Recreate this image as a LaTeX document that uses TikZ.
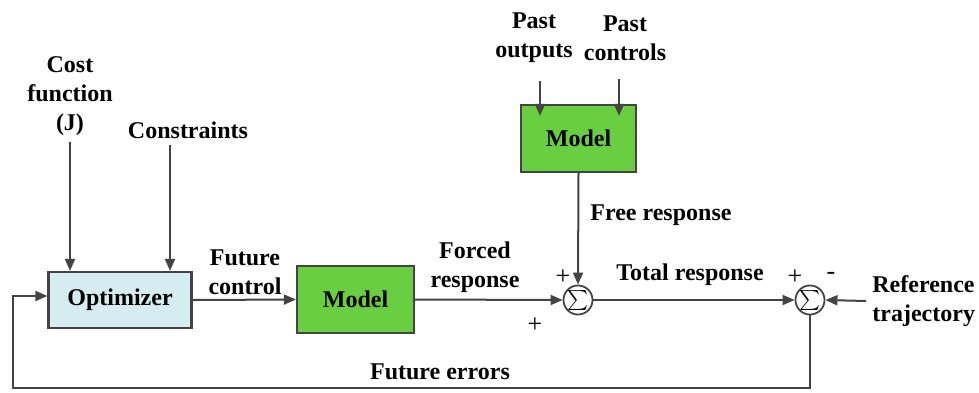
\documentclass[tikz,border=0pt]{standalone}
\usepackage{fontspec}
\setmainfont{Liberation Serif}
\usetikzlibrary{arrows.meta,positioning}
\definecolor{linegray}{HTML}{444444}
\definecolor{optblue}{HTML}{D5ECF1}
\definecolor{modelgreen}{HTML}{69CF40}
\tikzset{
  block/.style={draw=linegray, line width=1.1pt, inner sep=0pt},
  sumnode/.style={circle, draw=linegray, line width=0.9pt, minimum size=14pt, inner sep=0pt},
  lbl/.style={font=\fontsize{12}{14.5}\selectfont\bfseries, align=center, inner sep=3pt},
  sgn/.style={font=\fontsize{13}{14}\selectfont, inner sep=0pt},
  arr/.style={draw=linegray, line width=1pt, -{Triangle[length=6pt,width=5pt]}},
  wire/.style={draw=linegray, line width=1pt}
}

\begin{document}
\begin{tikzpicture}[x=0.5pt, y=-0.5pt]

  \useasboundingbox (0,0) rectangle (979,392);

  % Blocks
  \node[block, fill=optblue, minimum width=71.5pt, minimum height=28pt, lbl] (opt) at (120,300) {Optimizer};
  \node[block, fill=modelgreen, minimum width=58.5pt, minimum height=33.5pt, lbl] (model) at (355.5,299.5) {Model};
  \node[block, fill=modelgreen, minimum width=57.5pt, minimum height=33.5pt, lbl] (freemodel) at (578.5,138.5) {Model};

  % Summing junctions
  \node[sumnode] (sumA) at (578,300) {\fontsize{13}{13}\selectfont$\sum$};
  \node[sumnode] (sumB) at (810,300) {\fontsize{13}{13}\selectfont$\sum$};

  % Inputs
  \node[lbl] (cost) at (70,96) {Cost\\function\\(J)};
  \node[lbl] (cons) at (188,130) {Constraints};
  \node[lbl] (pout) at (534,38) {Past\\outputs};
  \node[lbl] (pctl) at (625,38) {Past\\controls};
  \node[lbl, align=left, anchor=west] (ref) at (866,301) {Reference\\trajectory};

  % Signal labels
  \node[lbl] at (245,272) {Future\\control};
  \node[lbl] at (475,267) {Forced\\response};
  \node[lbl, anchor=west] at (584,215) {Free response};
  \node[lbl] at (690,275) {Total response};
  \node[lbl] at (440,372) {Future errors};

  % Signs
  \node[sgn] at (563,277) {+};
  \node[sgn] at (535,325) {+};
  \node[sgn] at (795,277) {+};
  \node[sgn] at (831,276) {-};

  % Connections
  \draw[arr] (cost.south) -- (cost.south |- opt.north);
  \draw[arr] ([xshift=-9pt]cons.south) -- ([xshift=-9pt]cons.south |- opt.north);
  \draw[arr] ([xshift=3pt,yshift=-6pt]pout.south) -- ([xshift=3pt,yshift=-6pt]pout.south |- freemodel.north);
  \draw[arr] ([xshift=-3pt,yshift=-6pt]pctl.south) -- ([xshift=-3pt,yshift=-6pt]pctl.south |- freemodel.north);
  \draw[arr] (opt.east) -- (model.west);
  \draw[arr] (model.east) -- (sumA.west);
  \draw[arr] (freemodel.south) -- (sumA.north);
  \draw[arr] (sumA.east) -- (sumB.west);
  \draw[arr] (ref.west) -- (sumB.east);

  % Feedback of the predicted errors
  \coordinate (fbl) at (13,388);
  \draw[arr] (sumB.south) |- (fbl) |- ([yshift=2pt]opt.west);

\end{tikzpicture}
\end{document}
